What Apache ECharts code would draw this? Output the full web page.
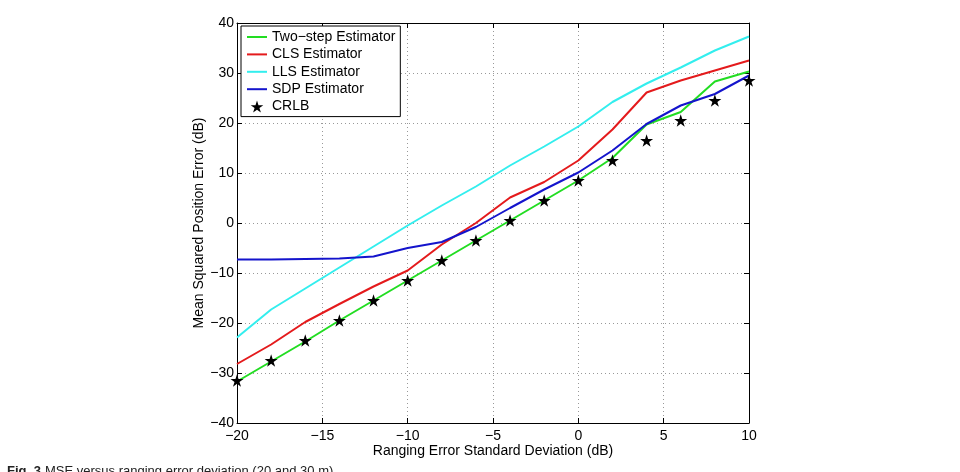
<!DOCTYPE html>
<html>
<head>
<meta charset="utf-8">
<script src="https://cdn.jsdelivr.net/npm/echarts@6/dist/echarts.min.js"></script>
<style>
html,body{margin:0;padding:0;background:#fff;}
#chart{width:960px;height:472px;}
</style>
</head>
<body>
<div id="chart"></div>
<script>
// Data
var xValues = [-20, -18, -16, -14, -12, -10, -8, -6, -4, -2, 0, 2, 4, 6, 8, 10];
var twoStep = [-31.7, -27.7, -23.7, -19.5, -15.5, -11.5, -7.5, -3.5, 0.5, 4.5, 8.5, 13.0, 19.7, 22.2, 28.3, 30.3];
var cls     = [-28.2, -24.3, -19.8, -16.2, -12.7, -9.5, -4.3, 0.0, 5.1, 8.2, 12.5, 18.7, 26.1, 28.5, 30.5, 32.5];
var lls     = [-22.9, -17.3, -13.1, -8.9, -4.7, -0.5, 3.5, 7.3, 11.5, 15.3, 19.3, 24.2, 27.9, 31.1, 34.5, 37.3];
var sdp     = [-7.3, -7.3, -7.2, -7.1, -6.7, -5.0, -3.8, -0.8, 3.0, 6.7, 10.1, 14.5, 19.8, 23.5, 25.8, 29.5];
var crlb    = [-31.5, -27.5, -23.5, -19.5, -15.5, -11.5, -7.5, -3.5, 0.5, 4.5, 8.5, 12.5, 16.5, 20.5, 24.5, 28.5];
var seriesNames = ['Two\u2212step Estimator', 'CLS Estimator', 'LLS Estimator', 'SDP Estimator', 'CRLB'];
var xAxisTitle = 'Ranging Error Standard Deviation (dB)';
var yAxisTitle = 'Mean Squared Position Error (dB)';
var captionBold = 'Fig. 3';
var captionText = 'MSE versus ranging error deviation (20 and 30 m)';

function pairs(ys) { return xValues.map(function (x, i) { return [x, ys[i]]; }); }
function fmt(v) { return String(v).replace('-', '\u2212'); }

var FONT = 'Liberation Sans, Arial, Helvetica, sans-serif';
var STAR = 'path://M50,0L61.2,34.5L97.6,34.5L68.2,55.9L79.4,90.5L50,69.1L20.6,90.5L31.8,55.9L2.4,34.5L38.8,34.5Z';

var chart = echarts.init(document.getElementById('chart'), null, {renderer: 'canvas'});

var axisCommon = {
  axisLine: {show: true, onZero: false, lineStyle: {color: '#000', width: 1}},
  axisTick: {show: true, inside: true, length: 5, lineStyle: {color: '#000', width: 1}}
};

function lineSeries(name, data, color) {
  return {
    name: name, type: 'line', data: pairs(data), symbol: 'circle', showSymbol: false, smooth: false,
    lineStyle: {color: color, width: 2}, itemStyle: {color: color},
    xAxisIndex: 0, yAxisIndex: 0, z: 3, animation: false
  };
}

var hiddenSym = {opacity: 0};

var option = {
  animation: false,
  backgroundColor: '#fff',
  textStyle: {fontFamily: FONT},
  grid: {left: 237, right: 211, top: 23, bottom: 49, containLabel: false},
  xAxis: [
    Object.assign({
      type: 'value', min: -20, max: 10, interval: 5, position: 'bottom',
      axisLabel: {formatter: fmt, color: '#000', fontSize: 14, fontFamily: FONT, margin: 6},
      splitLine: {show: true, lineStyle: {color: '#999', type: [1, 3], width: 1}},
      name: xAxisTitle, nameLocation: 'middle', nameGap: 21, nameMoveOverlap: false,
      nameTextStyle: {color: '#000', fontSize: 14, fontFamily: FONT}
    }, axisCommon),
    Object.assign({
      type: 'value', min: -20, max: 10, interval: 5, position: 'top',
      axisLabel: {show: false}, splitLine: {show: false}
    }, axisCommon)
  ],
  yAxis: [
    Object.assign({
      type: 'value', min: -40, max: 40, interval: 10, position: 'left',
      axisLabel: {formatter: fmt, color: '#000', fontSize: 14, fontFamily: FONT, margin: 3},
      splitLine: {show: true, lineStyle: {color: '#999', type: [1, 3], width: 1}},
      name: yAxisTitle, nameLocation: 'middle', nameGap: 31, nameRotate: 90, nameMoveOverlap: false,
      nameTextStyle: {color: '#000', fontSize: 14, fontFamily: FONT}
    }, axisCommon),
    Object.assign({
      type: 'value', min: -40, max: 40, interval: 10, position: 'right',
      axisLabel: {show: false}, splitLine: {show: false}
    }, axisCommon)
  ],
  legend: {
    orient: 'vertical', left: 241, top: 26,
    backgroundColor: '#fff', borderColor: '#000', borderWidth: 1,
    padding: [4, 5, 3, 5],
    itemWidth: 20, itemHeight: 12, itemGap: 3.4, itemTextGap: 3,
    textStyle: {color: '#000', fontSize: 14, fontFamily: FONT, lineHeight: 12},
    data: [
      {name: seriesNames[0], itemStyle: hiddenSym},
      {name: seriesNames[1], itemStyle: hiddenSym},
      {name: seriesNames[2], itemStyle: hiddenSym},
      {name: seriesNames[3], itemStyle: hiddenSym},
      {name: seriesNames[4], icon: STAR, itemStyle: {color: '#000'}}
    ],
    selectedMode: false
  },
  graphic: [
    {type: 'text', left: 7, top: 465, style: {text: captionBold, font: 'bold 13px ' + FONT, fill: '#222'}},
    {type: 'text', left: 45, top: 465, style: {text: captionText, font: '13px ' + FONT, fill: '#222'}}
  ],
  series: [
    lineSeries(seriesNames[0], twoStep, '#22dd22'),
    lineSeries(seriesNames[1], cls, '#e41a1c'),
    lineSeries(seriesNames[2], lls, '#33eeee'),
    lineSeries(seriesNames[3], sdp, '#1414cc'),
    {
      name: seriesNames[4], type: 'scatter', data: pairs(crlb),
      symbol: STAR, symbolSize: 13, symbolKeepAspect: true,
      itemStyle: {color: '#000', opacity: 1}, z: 5, animation: false
    }
  ]
};

chart.setOption(option);
</script>
</body>
</html>
